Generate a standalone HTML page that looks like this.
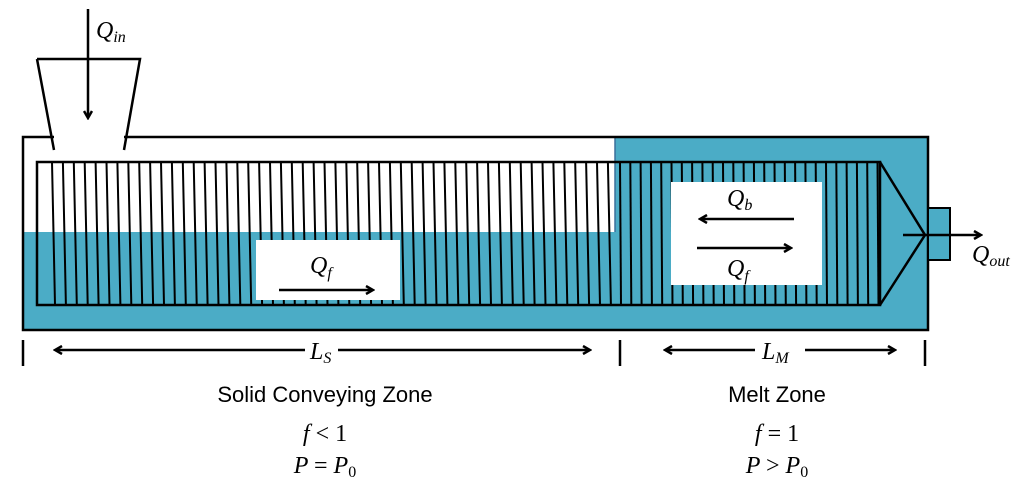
<!DOCTYPE html>
<html><head><meta charset="utf-8"><style>
html,body{margin:0;padding:0;background:#fff;width:1024px;height:491px;overflow:hidden}
svg text{font-family:"Liberation Serif",serif;font-style:italic}
.s{font-family:"Liberation Sans",sans-serif;font-style:normal}
</style></head><body>
<svg id="d" width="1024" height="491" viewBox="0 0 1024 491" xmlns="http://www.w3.org/2000/svg">
<defs><marker id="a" markerWidth="10" markerHeight="10" refX="8" refY="5" orient="auto" markerUnits="userSpaceOnUse"><path d="M1,1 L8,5 L1,9" fill="none" stroke="#000" stroke-width="2.5"/></marker></defs>
<rect x="23" y="137" width="905" height="193" fill="#fff"/>
<rect x="23" y="232" width="905" height="98" fill="#4BACC6"/>
<rect x="615" y="137" width="313" height="193" fill="#4BACC6"/>
<line x1="615" y1="137" x2="615" y2="232" stroke="#3a6f9a" stroke-width="1.5"/>
<path d="M54,137 L23,137 L23,330 L928,330 L928,137 L124,137" fill="none" stroke="#000" stroke-width="2.5"/>
<rect x="928" y="208" width="22" height="52" fill="#4BACC6" stroke="#000" stroke-width="2"/>
<g id="fl" stroke="#000" stroke-width="2"></g>
<rect x="37" y="162" width="843" height="143" fill="none" stroke="#000" stroke-width="2.5"/>
<path d="M880,162 L925,235 L880,305" fill="none" stroke="#000" stroke-width="2.5"/>
<rect x="256" y="240" width="144" height="60" fill="#fff"/>
<rect x="671" y="182" width="151" height="103" fill="#fff"/>
<path d="M37,59 L140,59 L124,150 M37,59 L54,150" fill="none" stroke="#000" stroke-width="2.5" stroke-linejoin="miter"/>
<line x1="88" y1="9" x2="88" y2="118" stroke="#000" stroke-width="2.5" marker-end="url(#a)"/>
<text x="96" y="38" font-size="24">Q<tspan font-size="16" dy="4">in</tspan></text>
<text x="310" y="273" font-size="24">Q<tspan font-size="16" dy="5">f</tspan></text>
<line x1="279" y1="290" x2="373" y2="290" stroke="#000" stroke-width="2.5" marker-end="url(#a)"/>
<text x="727" y="206" font-size="24">Q<tspan font-size="16" dy="4">b</tspan></text>
<line x1="794" y1="219" x2="700" y2="219" stroke="#000" stroke-width="2.5" marker-end="url(#a)"/>
<line x1="697" y1="248" x2="791" y2="248" stroke="#000" stroke-width="2.5" marker-end="url(#a)"/>
<text x="727" y="276" font-size="24">Q<tspan font-size="16" dy="5">f</tspan></text>
<line x1="903" y1="235" x2="981" y2="235" stroke="#000" stroke-width="2.5" marker-end="url(#a)"/>
<text x="972" y="262" font-size="24">Q<tspan font-size="16" dy="4">out</tspan></text>
<g stroke="#000" stroke-width="2.5">
<line x1="23" y1="340" x2="23" y2="366"/><line x1="620" y1="340" x2="620" y2="366"/><line x1="925" y1="340" x2="925" y2="366"/>
</g>
<line x1="305" y1="350" x2="55" y2="350" stroke="#000" stroke-width="2.5" marker-end="url(#a)"/>
<line x1="338" y1="350" x2="590" y2="350" stroke="#000" stroke-width="2.5" marker-end="url(#a)"/>
<text x="310" y="359" font-size="24">L<tspan font-size="16" dy="4">S</tspan></text>
<line x1="755" y1="350" x2="665" y2="350" stroke="#000" stroke-width="2.5" marker-end="url(#a)"/>
<line x1="805" y1="350" x2="895" y2="350" stroke="#000" stroke-width="2.5" marker-end="url(#a)"/>
<text x="762" y="359" font-size="24">L<tspan font-size="16" dy="4">M</tspan></text>
<text class="s" x="325" y="402" font-size="22" text-anchor="middle">Solid Conveying Zone</text>
<text x="325" y="441" font-size="24" text-anchor="middle">f <tspan font-style="normal">&lt; 1</tspan></text>
<text x="325" y="473" font-size="24" text-anchor="middle">P <tspan font-style="normal">=</tspan> P<tspan font-size="16" dy="4" font-style="normal">0</tspan></text>
<text class="s" x="777" y="402" font-size="22" text-anchor="middle">Melt Zone</text>
<text x="777" y="441" font-size="24" text-anchor="middle">f <tspan font-style="normal">= 1</tspan></text>
<text x="777" y="473" font-size="24" text-anchor="middle">P <tspan font-style="normal">&gt;</tspan> P<tspan font-size="16" dy="4" font-style="normal">0</tspan></text>
</svg>
<script>
var g=document.getElementById('fl'),s='';
for(var x=52;x<616;x+=10.9){s+='<line x1="'+x.toFixed(1)+'" y1="162" x2="'+(x+3).toFixed(1)+'" y2="305"/>';}
for(var x=620;x<878;x+=10.3){s+='<line x1="'+x.toFixed(1)+'" y1="162" x2="'+(x+1).toFixed(1)+'" y2="305"/>';}
g.innerHTML=s;
</script>
</body></html>
